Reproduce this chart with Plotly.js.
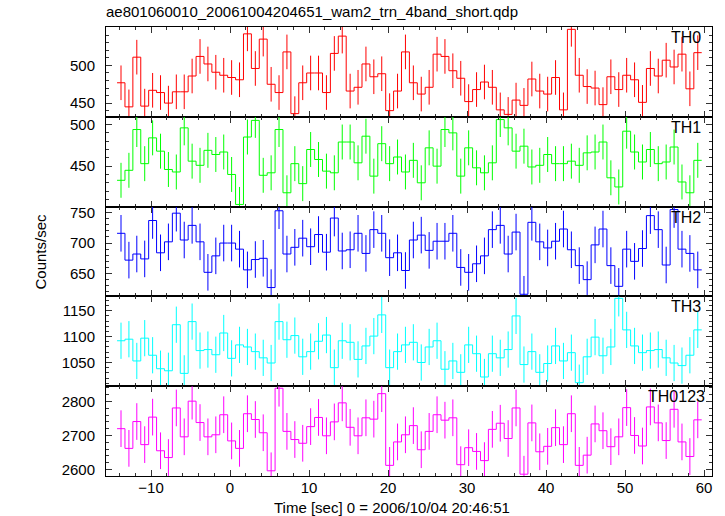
<!DOCTYPE html>
<html>
<head>
<meta charset="utf-8">
<script src="https://cdn.plot.ly/plotly-3.0.1.min.js"></script>
<style>html,body{margin:0;padding:0;background:#fff;}#chart{width:725px;height:516px;}</style>
</head>
<body>
<div id="chart"></div>
<script>
// Bin centre times [sec] (1 s bins)
const timeSec = [-13.8,-12.8,-11.8,-10.8,-9.8,-8.8,-7.8,-6.8,-5.8,-4.8,-3.8,-2.8,-1.8,-0.8,0.2,1.2,2.2,3.2,4.2,5.2,6.2,7.2,8.2,9.2,10.2,11.2,12.2,13.2,14.2,15.2,16.2,17.2,18.2,19.2,20.2,21.2,22.2,23.2,24.2,25.2,26.2,27.2,28.2,29.2,30.2,31.2,32.2,33.2,34.2,35.2,36.2,37.2,38.2,39.2,40.2,41.2,42.2,43.2,44.2,45.2,46.2,47.2,48.2,49.2,50.2,51.2,52.2,53.2,54.2,55.2,56.2,57.2,58.2,59.2];

const th0 = [477,445,511,446,467,464,450,465,465,486,512,502,491,487,484,481,542,496,535,475,464,518,436,477,490,490,464,516,539,466,471,502,485,489,440,
             466,518,477,462,471,515,512,493,483,452,468,478,471,441,435,454,447,482,466,462,484,441,548,487,472,470,448,485,468,487,481,451,496,486,507,498,515,469,517];
const th1 = [433,445,494,453,484,468,446,443,496,456,451,469,464,467,440,404,485,505,439,442,494,418,453,429,470,458,444,442,479,479,454,486,438,477,453,
             461,443,457,430,472,450,494,490,438,472,448,442,454,506,496,468,474,449,451,464,453,453,456,451,466,467,479,436,425,492,467,455,470,453,455,473,431,418,457];
const th2 = [716,672,682,674,737,684,702,749,705,729,702,652,679,700,700,690,656,673,675,627,753,682,693,708,694,714,685,741,687,689,716,683,722,716,676,
             684,655,705,713,688,703,703,716,660,652,666,679,722,729,682,718,616,734,702,692,703,723,689,663,640,697,723,663,629,690,670,691,745,722,664,755,690,683,656];
const th3 = [1092,1095,1053,1097,1064,1038,1034,1123,1029,1129,1073,1075,1065,1107,1058,1084,1080,1071,1059,1049,1129,1094,1102,1061,1071,1091,1103,1040,1092,1089,1056,1082,1101,1142,1040,
             1071,1084,1089,1050,1080,1092,1037,1053,1031,1084,1067,1022,1067,1059,1075,1140,1046,1071,1031,1048,1082,1053,1069,1011,1061,1099,1063,1080,1174,1113,1082,1069,1073,1075,1059,1049,1044,1064,1113];
const th0123 = [2720,2662,2741,2673,2754,2655,2635,2781,2696,2801,2738,2696,2702,2761,2684,2662,2764,2747,2708,2596,2839,2712,2688,2677,2726,2753,2699,2740,2796,2724,2699,2752,2748,2823,2612,
                2681,2702,2729,2658,2712,2761,2745,2752,2614,2664,2653,2626,2718,2736,2691,2781,2586,2737,2652,2668,2723,2673,2764,2612,2642,2734,2714,2667,2696,2782,2700,2669,2784,2737,2685,2777,2681,2638,2746];

// 1-sigma errors (counts/sec)
const th0Err = 23, th1Err = 21, th2Err = 30, th3Err = 35, th0123Err = 54;

const bandNames = ['TH0','TH1','TH2','TH3','TH0123'];
const binWidth = 1.0;

const FONT = 'Liberation Sans, Arial, Helvetica, sans-serif';
const panels = [
  {name:bandNames[0], y:th0, err:th0Err, color:'#ff0000', range:[431.8,551.1], ticks:[450,500], minor:10, labx:703},
  {name:bandNames[1], y:th1, err:th1Err, color:'#00ff00', range:[401.4,509.3], ticks:[450,500], minor:10, labx:703},
  {name:bandNames[2], y:th2, err:th2Err, color:'#0000ff', range:[612.5,759.8], ticks:[650,700,750], minor:10, labx:703},
  {name:bandNames[3], y:th3, err:th3Err, color:'#00ffff', range:[1004.2,1177.7], ticks:[1050,1100,1150], minor:10, labx:703},
  {name:bandNames[4], y:th0123, err:th0123Err, color:'#ff00ff', range:[2580.7,2845], ticks:[2600,2700,2800], minor:20, labx:707}
];

const L = 106, R = 13, T = 27, B = 40, W = 725, H = 516;
const pw = W - L - R, ph = H - T - B;
const n = panels.length;

const traces = [];
const layout = {
  width: W, height: H,
  margin: {l:L, r:R, t:T, b:B, pad:0},
  paper_bgcolor: '#ffffff', plot_bgcolor: '#ffffff',
  showlegend: false,
  font: {family: FONT, size: 15, color: '#000'},
  title: {
    text: 'ae801060010_20061004204651_wam2_trn_4band_short.qdp',
    x: 0, xref: 'paper', xanchor: 'left',
    y: 1 - 12/H, yref: 'container', yanchor: 'middle',
    font: {family: FONT, size: 15, color: '#000'}
  },
  annotations: []
};

panels.forEach((p, i) => {
  const k = i + 1;
  const xa = k === 1 ? 'x' : 'x' + k;
  const ya = k === 1 ? 'y' : 'y' + k;
  // step outline from bin edges
  const xs = timeSec.map(v => v - binWidth/2);
  xs.push(timeSec[timeSec.length-1] + binWidth/2);
  const ys = p.y.slice();
  ys.push(p.y[p.y.length-1]);
  traces.push({
    x: xs, y: ys, xaxis: xa, yaxis: ya, type: 'scatter', mode: 'lines',
    line: {shape: 'hv', color: p.color, width: 1}, hoverinfo: 'skip'
  });
  traces.push({
    x: timeSec, y: p.y, xaxis: xa, yaxis: ya, type: 'scatter', mode: 'markers',
    marker: {size: 2, opacity: 0, color: p.color},
    error_y: {type: 'constant', value: p.err, width: 0, thickness: 1, color: p.color},
    hoverinfo: 'skip'
  });
  const top = 1 - i / n, bot = 1 - (i + 1) / n;
  layout[k === 1 ? 'xaxis' : 'xaxis' + k] = {
    domain: [0, 1], anchor: ya, range: [-15.7, 61.0],
    showline: true, linecolor: '#000', linewidth: 1, mirror: 'ticks',
    ticks: 'inside', ticklen: 6, tickwidth: 1, tickcolor: '#333',
    tick0: 0, dtick: 10,
    minor: {dtick: 2, tick0: 0, ticks: 'inside', ticklen: 3, tickcolor: '#333', showgrid: false},
    showgrid: false, zeroline: false,
    showticklabels: k === n,
    ticklabelstandoff: -2,
    tickfont: {family: FONT, size: 15, color: '#000'}
  };
  layout[k === 1 ? 'yaxis' : 'yaxis' + k] = {
    domain: [bot, top], anchor: xa, range: p.range,
    showline: true, linecolor: '#000', linewidth: 1, mirror: 'ticks',
    ticks: 'inside', ticklen: 6, tickwidth: 1, tickcolor: '#333',
    tickmode: 'array', tickvals: p.ticks,
    minor: {dtick: p.minor, tick0: 0, ticks: 'inside', ticklen: 3, tickcolor: '#333', showgrid: false},
    showgrid: false, zeroline: false,
    ticklabelstandoff: 7,
    tickfont: {family: FONT, size: 15, color: '#000'}
  };
  layout.annotations.push({
    text: p.name, xref: 'paper', yref: 'paper',
    x: (p.labx - L) / pw, xanchor: 'right',
    y: top - 10.5 / ph, yanchor: 'middle',
    showarrow: false, font: {family: FONT, size: 16, color: '#000'}
  });
});

layout.annotations.push({
  text: 'Counts/sec', xref: 'paper', yref: 'paper',
  x: (40 - L) / pw, y: 0.5, xanchor: 'center', yanchor: 'middle',
  textangle: -90, showarrow: false, font: {family: FONT, size: 15, color: '#000'}
});
layout.annotations.push({
  text: 'Time [sec] 0 = 2006/10/04 20:46:51', xref: 'paper', yref: 'paper',
  x: (391.5 - L) / pw, y: (T + ph - 507) / ph, xanchor: 'center', yanchor: 'middle',
  showarrow: false, font: {family: FONT, size: 15, color: '#000'}
});

Plotly.newPlot('chart', traces, layout, {staticPlot: true, displayModeBar: false});
</script>
</body>
</html>
